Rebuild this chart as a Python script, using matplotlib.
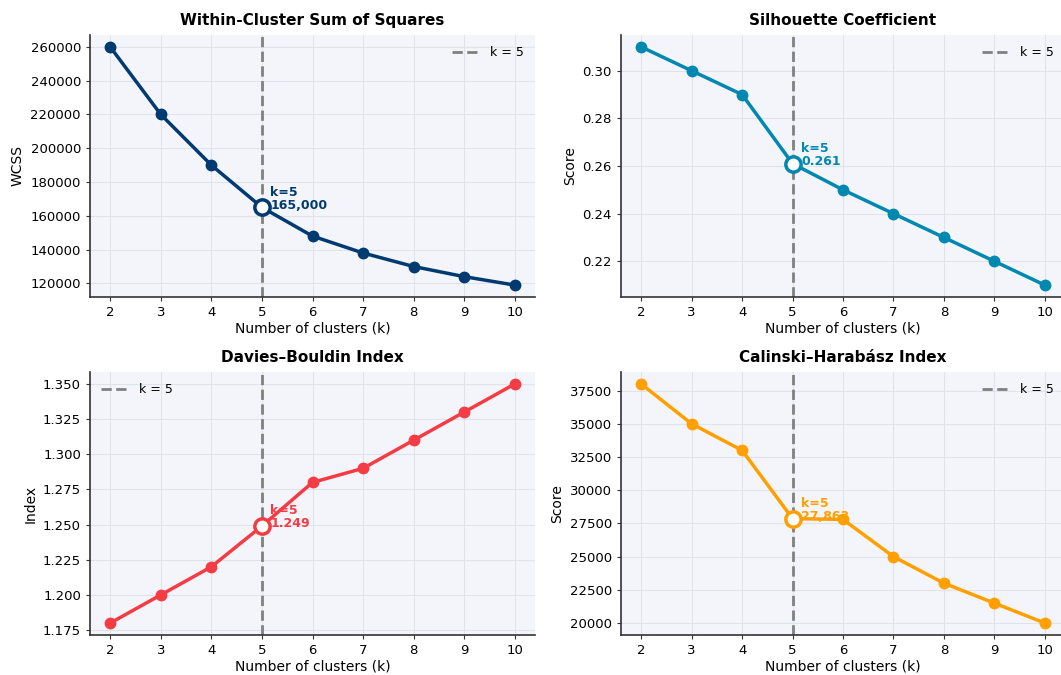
import matplotlib
matplotlib.use("Agg")
import matplotlib.pyplot as plt

k_values = [2, 3, 4, 5, 6, 7, 8, 9, 10]
wcss = [260000, 220000, 190000, 165000, 148000, 138000, 130000, 124000, 119000]
silhouette = [0.310, 0.300, 0.290, 0.261, 0.250, 0.240, 0.230, 0.220, 0.210]
davies = [1.180, 1.200, 1.220, 1.249, 1.280, 1.290, 1.310, 1.330, 1.350]
calinski = [38000, 35000, 33000, 27863, 27800, 25000, 23000, 21500, 20000]

best_k = 5

titles = ["Within-Cluster Sum of Squares", "Silhouette Coefficient",
          "Davies\u2013Bouldin Index", "Calinski\u2013Harab\u00e1sz Index"]
ylabels = ["WCSS", "Score", "Index", "Score"]
labels = ["165,000", "0.261", "1.249", "27,863"]
colors = ["#003a70", "#0088b0", "#f53c45", "#ffa000"]
legend_loc = ["upper right", "upper right", "upper left", "upper right"]
series = [wcss, silhouette, davies, calinski]

fig = plt.figure(figsize=(10.61, 6.75), dpi=100)
W, H = 1061.0, 675.0
boxes = [(90, 35, 445, 262), (621, 35, 444, 262),
         (90, 372, 445, 263), (621, 372, 444, 263)]

for i in range(4):
    x0, y0, w, h = boxes[i]
    ax = fig.add_axes([x0 / W, 1 - (y0 + h) / H, w / W, h / H])
    ax.set_facecolor("#f4f5fa")
    c = colors[i]
    vals = series[i]

    ax.grid(True, color="#dfe4ec", linewidth=0.8)
    ax.set_axisbelow(True)
    ax.plot(k_values, vals, "-o", color=c, linewidth=2.5, markersize=7.5, zorder=3)
    ax.axvline(best_k, color="#808080", linestyle="--", linewidth=2, label="k = %d" % best_k, zorder=2)

    idx = k_values.index(best_k)
    ax.plot(best_k, vals[idx], "o", markersize=11, markerfacecolor="white",
            markeredgecolor=c, markeredgewidth=2.5, zorder=4)
    ax.annotate("k=%d\n%s" % (best_k, labels[i]), (best_k, vals[idx]),
                xytext=(6, -3), textcoords="offset points", va="bottom", ha="left",
                fontsize=9, fontweight="bold", color=c, linespacing=1.0, zorder=5)

    ax.set_title(titles[i], fontsize=11, fontweight="bold", pad=7)
    ax.set_xlabel("Number of clusters (k)", fontsize=10, labelpad=2)
    ax.set_ylabel(ylabels[i], fontsize=10)
    ax.set_xticks(k_values)
    ax.tick_params(labelsize=9.5, length=3, color="#333333")
    for s in ["top", "right"]:
        ax.spines[s].set_visible(False)
    for s in ["left", "bottom"]:
        ax.spines[s].set_color("#333333")
        ax.spines[s].set_linewidth(1.2)

    if i == 1:
        ax.yaxis.set_major_formatter(matplotlib.ticker.FormatStrFormatter("%.2f"))
    if i == 2:
        ax.yaxis.set_major_formatter(matplotlib.ticker.FormatStrFormatter("%.3f"))

    ax.legend(loc=legend_loc[i], frameon=False, fontsize=9, handlelength=2.2)

fig.savefig("out.png", dpi=100, facecolor="white")
